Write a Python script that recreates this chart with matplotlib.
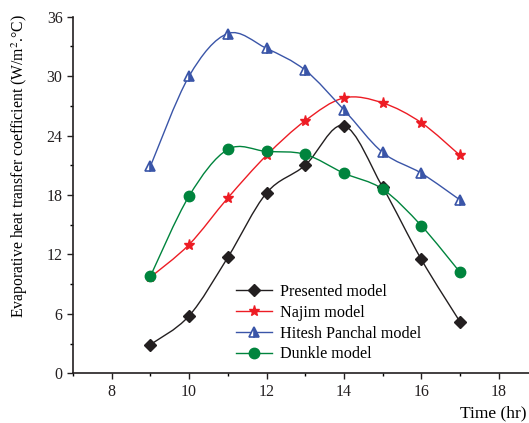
import numpy as np
import matplotlib.pyplot as plt
from matplotlib.path import Path
from matplotlib.patches import PathPatch
from matplotlib.lines import Line2D
from matplotlib.ticker import MultipleLocator

plt.rcParams['font.family'] = ['Liberation Serif', 'DejaVu Serif']
plt.rcParams['font.size'] = 11
plt.rcParams['mathtext.fontset'] = 'stix'

# hours of the day
hours = [9, 10, 11, 12, 13, 14, 15, 16, 17]

# heat transfer coefficient (W/m2.C)
presented = [2.9, 5.8, 11.7, 18.2, 21.0, 25.0, 18.8, 11.5, 5.2]
najim = [9.7, 13.0, 17.7, 22.0, 25.5, 27.8, 27.3, 25.3, 22.0]
hitesh = [20.9, 30.0, 34.3, 32.8, 30.6, 26.6, 22.3, 20.2, 17.5]
dunkle = [9.8, 17.9, 22.6, 22.4, 22.1, 20.2, 18.6, 14.9, 10.2]

labels = ['Presented model', 'Najim model', 'Hitesh Panchal model', 'Dunkle model']
colors = ['#231f20', '#ed1c24', '#3a55a8', '#00843d']


def smooth_path(x, y):
    # catmull-rom curve as cubic bezier segments
    p = np.column_stack([x, y]).astype(float)
    ext = np.vstack([p[0], p, p[-1]])
    verts = [p[0]]
    codes = [Path.MOVETO]
    for i in range(len(p) - 1):
        a, b, c, d = ext[i], ext[i + 1], ext[i + 2], ext[i + 3]
        verts += [b + (c - a) / 6, c - (d - b) / 6, c]
        codes += [Path.CURVE4] * 3
    return Path(verts, codes)


fig = plt.figure(figsize=(5.29, 4.23), dpi=100)
ax = fig.add_axes([73 / 529, 1 - 373.3 / 423, 456 / 529, 356.6 / 423])

series = [presented, najim, hitesh, dunkle]
styles = [
    dict(marker='D', markersize=6.5, markerfacecolor=colors[0]),
    dict(marker='*', markersize=8, markerfacecolor=colors[1]),
    dict(marker='^', markersize=7, markerfacecolor=colors[2], fillstyle='right',
         markerfacecoloralt='white', markeredgewidth=1.2),
    dict(marker='o', markersize=7.5, markerfacecolor=colors[3]),
]

handles = []
for vals, col, st, lab in zip(series, colors, styles, labels):
    ax.add_patch(PathPatch(smooth_path(hours, vals), fill=False, edgecolor=col, lw=1.0))
    ax.plot(hours, vals, ls='none', color=col, markeredgecolor=col, **st)
    handles.append(Line2D([], [], color=col, lw=1.0, markeredgecolor=col, label=lab, **st))

ax.set_xlim(7, 7 + 456 / 38.7)
ax.set_ylim(0, 36)
ax.xaxis.set_major_locator(MultipleLocator(2))
ax.xaxis.set_minor_locator(MultipleLocator(1))
ax.yaxis.set_major_locator(MultipleLocator(6))
ax.yaxis.set_minor_locator(MultipleLocator(3))
ax.spines['top'].set_visible(False)
ax.spines['right'].set_visible(False)
ax.tick_params(which='major', direction='out', length=4, width=1, labelsize=11.5, colors='#231f20')
ax.tick_params(which='minor', direction='out', length=2.5, width=1)
for s in ['left', 'bottom']:
    ax.spines[s].set_linewidth(1.2)
    ax.spines[s].set_color('#231f20')

fig.text(20 / 529, 1 - 166 / 423,
         'Evaporative heat transfer coefficient (W/m$^{2}$.°C)',
         rotation=90, ha='center', va='center', fontsize=11.3)
fig.text(527 / 529, 1 - 413 / 423, 'Time (hr)', ha='right', va='center', fontsize=12.5)

ax.legend(handles=handles, loc='upper left', bbox_to_anchor=(236 / 529, 1 - 284 / 423),
          bbox_transform=fig.transFigure, frameon=False, borderpad=0, borderaxespad=0,
          handlelength=2.25, handletextpad=0.5, labelspacing=0.3, fontsize=11.6)

fig.savefig('out.png', dpi=100)
